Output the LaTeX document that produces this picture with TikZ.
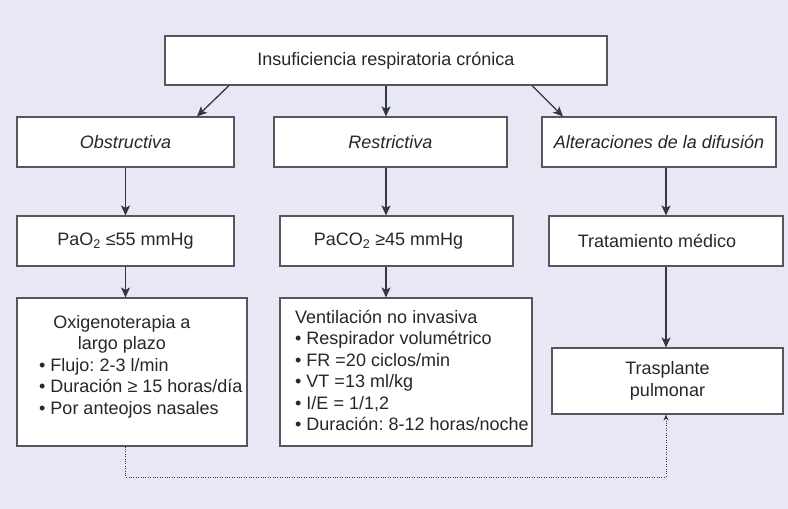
\documentclass[tikz,border=0pt]{standalone}
\usepackage{fontspec}
\setmainfont{Liberation Sans}
\usetikzlibrary{arrows.meta}
\frenchspacing
\definecolor{bgcol}{RGB}{231,232,243}
\definecolor{linecol}{RGB}{52,54,70}
\definecolor{boxcol}{RGB}{85,86,96}
\definecolor{textcol}{RGB}{38,38,44}
\begin{document}
\begin{tikzpicture}[x=1pt, y=-1pt,
  box/.style={draw=boxcol, fill=white, line width=1.1pt, inner sep=0pt,
    text=textcol, font=\fontsize{18}{21.5}\selectfont},
  boxtext/.style={inner sep=0pt, anchor=north west,
    text=textcol, font=\fontsize{18}{21.5}\selectfont},
  arr/.style={draw=linecol, line width=1.3pt,
    -{Stealth[length=10pt, width=9pt, inset=2.5pt]}},
  dotarr/.style={draw=linecol, line width=1pt, dash pattern=on 1pt off 1.4pt,
    -{Stealth[length=6pt, width=5pt]}}]
  \fill[bgcol] (0,0) rectangle (788,509);
  \useasboundingbox (0,0) rectangle (788,509);
  % first row
  \node[box, minimum width=442pt, minimum height=49pt] (top) at (386,60.5)
    {Insuficiencia respiratoria crónica};
  % second row
  \node[box, minimum width=217pt, minimum height=50pt] (obs) at (125.5,142) {\itshape Obstructiva};
  \node[box, minimum width=233pt, minimum height=50pt] (res) at (390.5,142) {\itshape Restrictiva};
  \node[box, minimum width=234pt, minimum height=50pt] (alt) at (659,142) {\itshape Alteraciones de la difusión};
  % third row
  \node[box, minimum width=217pt, minimum height=50pt] (pao) at (125.5,241)
    {PaO\textsubscript{2} ≤55 mmHg};
  \node[box, minimum width=233pt, minimum height=50pt] (pac) at (396.5,241)
    {PaCO\textsubscript{2} ≥45 mmHg\hspace*{16pt}};
  \node[box, minimum width=234pt, minimum height=50pt] (tra) at (666,241)
    {Tratamiento médico\hspace*{18pt}};
  % fourth row
  \node[box, minimum width=230pt, minimum height=148pt] (oxi) at (132,372) {};
  \node[boxtext, anchor=north] (oxi-head) at (122,313)
    {\begin{tabular}{@{}c@{}}Oxigenoterapia a\\ largo plazo\end{tabular}};
  \node[boxtext] (oxi-txt) at (39,356)
    {\begin{tabular}{@{}l@{}}
     \textbullet\ Flujo: 2-3 l/min\\ \textbullet\ Duración ≥ 15 horas/día\\
     \textbullet\ Por anteojos nasales
     \end{tabular}};
  \node[box, minimum width=252pt, minimum height=148pt] (ven) at (406,372) {};
  \node[boxtext] (ven-txt) at (295,308)
    {\begin{tabular}{@{}l@{}}
     Ventilación no invasiva\\ \textbullet\ Respirador volumétrico\\
     \textbullet\ FR =20 ciclos/min\\ \textbullet\ VT =13 ml/kg\\
     \textbullet\ I/E = 1/1,2\\ \textbullet\ Duración: 8-12 horas/noche
     \end{tabular}};
  \node[box, minimum width=231pt, minimum height=66pt, align=center] (tras) at (667.5,381)
    {Trasplante\\ pulmonar};
  \coordinate (dotlow) at (0,477);
  % connectors
  \draw[arr] ([xshift=-157pt]top.south) -- ([xshift=71.5pt]obs.north);
  \draw[arr] (top.south) -- (top.south |- res.north);
  \draw[arr] ([xshift=146pt]top.south) -- ([xshift=-96pt]alt.north);
  \draw[arr] (obs.south) -- (pao.north);
  \draw[arr] ([xshift=-4.5pt]res.south) -- ([xshift=-10.5pt]pac.north);
  \draw[arr] (tra.north |- alt.south) -- (tra.north);
  \draw[arr] (pao.south) -- (pao.south |- oxi.north);
  \draw[arr] ([xshift=-10.5pt]pac.south) -- ([xshift=-20pt]ven.north);
  \draw[arr] (tra.south) -- (tra.south |- tras.north);
  \draw[dotarr] (pao.south |- oxi.south) -- (pao.south |- dotlow) -| (tra.south |- tras.south);
\end{tikzpicture}
\end{document}
